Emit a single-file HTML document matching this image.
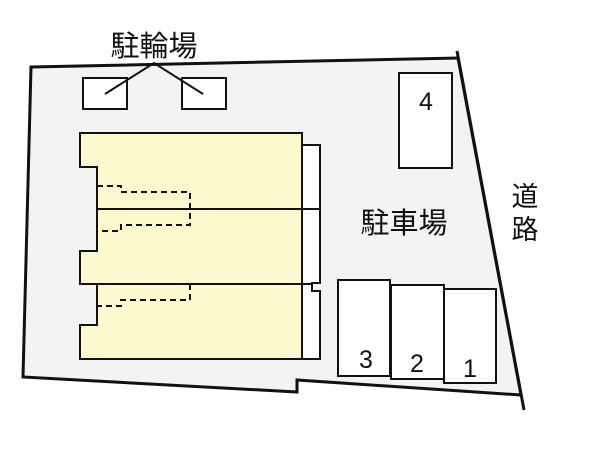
<!DOCTYPE html>
<html><head><meta charset="utf-8"><style>
html,body{margin:0;padding:0;background:#fff;width:600px;height:450px;overflow:hidden}
text{font-family:"Liberation Sans","Noto Sans CJK JP",sans-serif;fill:#111}
</style></head><body>
<svg width="600" height="450" viewBox="0 0 600 450" xmlns="http://www.w3.org/2000/svg">
<polygon points="31,67 458,58 521,395 297,380 297,392 23,377" fill="#f3f3f3" stroke="#111" stroke-width="3" stroke-linejoin="miter"/>
<line x1="457" y1="51" x2="524" y2="410" stroke="#111" stroke-width="3"/>
<rect x="83" y="78" width="44" height="31" fill="#fff" stroke="#111" stroke-width="2"/>
<rect x="182" y="78" width="44" height="31" fill="#fff" stroke="#111" stroke-width="2"/>
<polyline points="105,94 154,63 203,94" fill="none" stroke="#111" stroke-width="2"/>
<text x="154" y="56" font-size="29" text-anchor="middle">駐輪場</text>
<polygon points="302,145 320,145 320,283 312,283 312,291 320,291 320,359 302,359" fill="#fff" stroke="#111" stroke-width="2"/>
<polygon points="80,133 302,133 302,359 80,359 80,325 97,325 97,284 80,284 80,251 97,251 97,167 80,167" fill="#fdf9cf" stroke="#111" stroke-width="2"/>
<line x1="97" y1="209" x2="320" y2="209" stroke="#111" stroke-width="2"/>
<line x1="80" y1="284" x2="312" y2="284" stroke="#111" stroke-width="2"/>
<g fill="none" stroke="#111" stroke-width="2" stroke-dasharray="6,4">
<polyline points="97,186 121,186 121,192 190,192 190,225 121,225 121,231 97,231"/>
<polyline points="190,284 190,300 121,300 121,306 97,306"/>
</g>
<rect x="399" y="73" width="53" height="95" fill="#fff" stroke="#111" stroke-width="2"/>
<text x="426" y="110" font-size="25" text-anchor="middle">4</text>
<rect x="338" y="280" width="52" height="96" fill="#fff" stroke="#111" stroke-width="2"/>
<rect x="391" y="285" width="53" height="94" fill="#fff" stroke="#111" stroke-width="2"/>
<rect x="444" y="289" width="52" height="94" fill="#fff" stroke="#111" stroke-width="2"/>
<text x="366" y="368" font-size="25" text-anchor="middle">3</text>
<text x="417" y="372" font-size="25" text-anchor="middle">2</text>
<text x="470" y="377" font-size="25" text-anchor="middle">1</text>
<text x="404" y="233" font-size="29" text-anchor="middle">駐車場</text>
<text x="525" y="206" font-size="27" text-anchor="middle">道</text>
<text x="525" y="239" font-size="27" text-anchor="middle">路</text>
</svg>
</body></html>
